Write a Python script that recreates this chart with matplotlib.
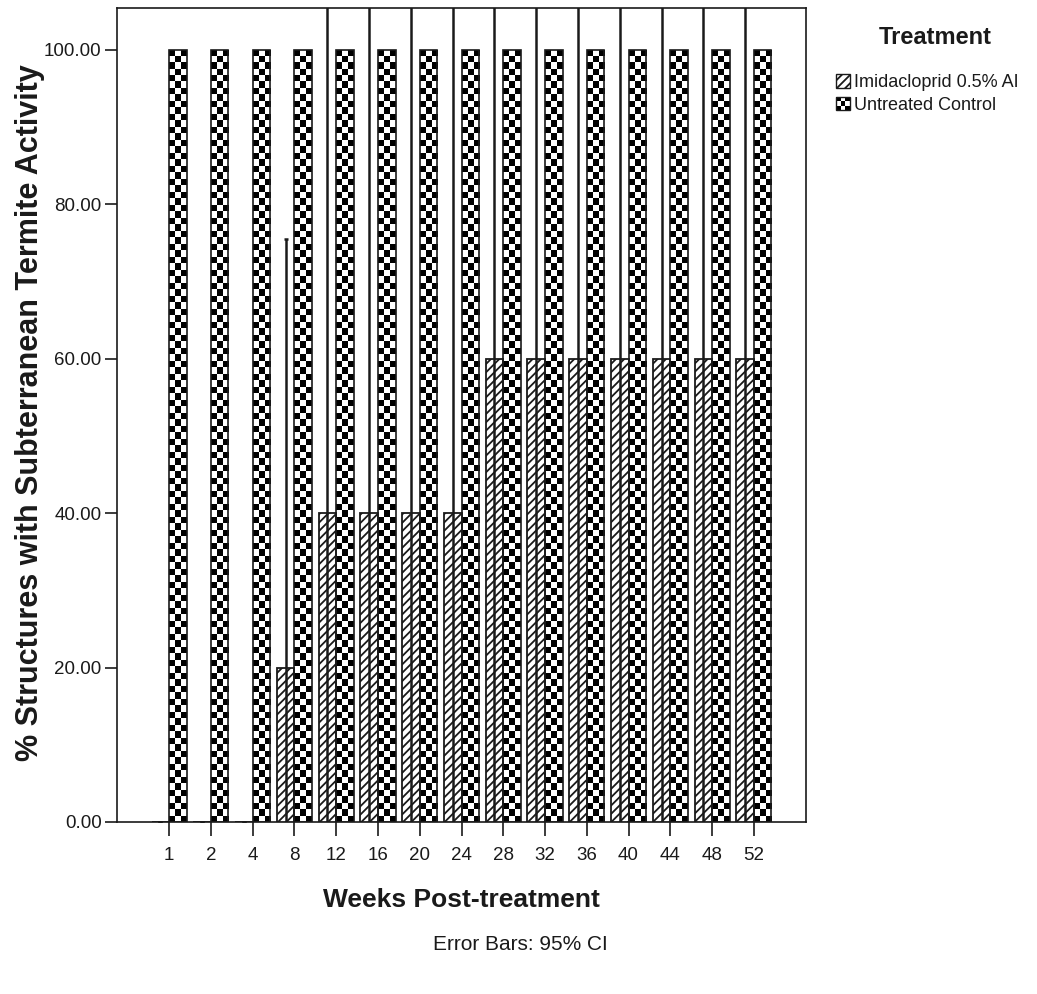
import numpy as np
import matplotlib
matplotlib.use("Agg")
import matplotlib.pyplot as plt
from matplotlib.patches import Rectangle
from matplotlib.legend_handler import HandlerBase

weeks = ["1", "2", "4", "8", "12", "16", "20", "24", "28", "32", "36", "40", "44", "48", "52"]
imidacloprid = [0, 0, 0, 20, 40, 40, 40, 40, 60, 60, 60, 60, 60, 60, 60]
control = [100, 100, 100, 100, 100, 100, 100, 100, 100, 100, 100, 100, 100, 100, 100]
imid_ci_low = [0, 0, 0, -35.5, -28, -28, -28, -28, -8, -8, -8, -8, -8, -8, -8]
imid_ci_high = [0, 0, 0, 75.5, 108, 108, 108, 108, 128, 128, 128, 128, 128, 128, 128]
yticks = [0, 20, 40, 60, 80, 100]

FONT = ["Liberation Sans", "DejaVu Sans"]
INK = "#1a1a1a"

plt.rcParams["hatch.linewidth"] = 1.3


def checker(ax, bar, ncols=3, cell_px=6.5):
    # black/white checkerboard clipped to a bar rectangle
    x0, w, h = bar.get_x(), bar.get_width(), bar.get_height()
    px_per_unit = ax.transData.transform((0, 1))[1] - ax.transData.transform((0, 0))[1]
    nrows = max(1, int(round(h * px_per_unit / cell_px)))
    grid = (np.add.outer(np.arange(nrows), np.arange(ncols)) % 2).astype(float)
    im = ax.imshow(grid, cmap="gray", extent=(x0, x0 + w, 0, h), origin="lower",
                   interpolation="nearest", aspect="auto", zorder=2, vmin=0, vmax=1)
    im.set_clip_path(bar)


class CheckerHandler(HandlerBase):
    def create_artists(self, legend, orig_handle, xdescent, ydescent, width, height, fontsize, trans):
        s = min(width, height)
        x0, y0 = -xdescent, -ydescent
        arts = [Rectangle((x0, y0), s, s, facecolor="white", edgecolor="none", transform=trans)]
        c = s / 3
        for r in range(3):
            for k in range(3):
                if (r + k) % 2 == 0:
                    arts.append(Rectangle((x0 + k * c, y0 + r * c), c, c, facecolor="black",
                                          edgecolor="none", transform=trans))
        arts.append(Rectangle((x0, y0), s, s, facecolor="none", edgecolor=INK, lw=1.0, transform=trans))
        return arts


class HatchHandler(HandlerBase):
    def create_artists(self, legend, orig_handle, xdescent, ydescent, width, height, fontsize, trans):
        s = min(width, height)
        return [Rectangle((-xdescent, -ydescent), s, s, facecolor="white", edgecolor=INK,
                          hatch="////", lw=1.0, transform=trans)]


fig = plt.figure(figsize=(10.37, 9.94), dpi=100)
ax = fig.add_axes([117 / 1037, 1 - 822 / 994, 689 / 1037, 814 / 994])

x = np.arange(len(weeks))
bw = 0.42
ax.set_xlim(-1.25, len(weeks) - 1 + 1.25)
ax.set_ylim(0, 105.4)

imid_bars = ax.bar(x - bw / 2, imidacloprid, width=bw, facecolor="white", edgecolor=INK,
                   hatch="////", linewidth=1.3, zorder=3)
ctrl_bars = ax.bar(x + bw / 2, control, width=bw, facecolor="none", edgecolor=INK,
                   linewidth=1.2, zorder=3)
for b in ctrl_bars:
    checker(ax, b)

imid = np.array(imidacloprid, dtype=float)
yerr = [imid - np.array(imid_ci_low), np.array(imid_ci_high) - imid]
ax.errorbar(x - bw / 2, imid, yerr=yerr, fmt="none", ecolor=INK, elinewidth=1.8,
            capsize=1.5, capthick=1.8, zorder=4)

ax.set_xlim(-1.25, len(weeks) - 1 + 1.25)
ax.set_ylim(0, 105.4)

ax.set_xticks(x)
ax.set_xticklabels(weeks, family=FONT, fontsize=13.5, color=INK)
ax.set_yticks(yticks)
ax.set_yticklabels([f"{v:.2f}" for v in yticks], family=FONT, fontsize=13.5, color=INK)
ax.tick_params(axis="x", direction="out", length=10, width=1.2, color=INK, pad=8)
ax.tick_params(axis="y", direction="out", length=9, width=1.2, color=INK, pad=2)
for sp in ax.spines.values():
    sp.set_color(INK)
    sp.set_linewidth(1.2)

fig.text(30 / 1037, 1 - 413 / 994, "% Structures with Subterranean Termite Activity",
         rotation=90, ha="center", va="center", family=FONT, weight="bold", fontsize=22, color=INK)
fig.text(461 / 1037, 1 - 900 / 994, "Weeks Post-treatment", ha="center", va="center",
         family=FONT, weight="bold", fontsize=19, color=INK)
fig.text(520 / 1037, 1 - 945 / 994, "Error Bars: 95% CI", ha="center", va="center",
         family=FONT, fontsize=15, color=INK)

fig.text(935 / 1037, 1 - 38 / 994, "Treatment", ha="center", va="center",
         family=FONT, weight="bold", fontsize=17, color=INK)
leg = fig.legend([imid_bars, ctrl_bars], ["Imidacloprid 0.5% AI", "Untreated Control"],
                 handler_map={imid_bars: HatchHandler(), ctrl_bars: CheckerHandler()},
                 loc="upper left", bbox_to_anchor=(836 / 1037, 1 - 74 / 994), frameon=False,
                 prop={"family": FONT, "size": 13},
                 handlelength=0.8, handleheight=0.8, handletextpad=0.2, labelspacing=0.3,
                 borderaxespad=0, borderpad=0)
for t in leg.get_texts():
    t.set_color(INK)

fig.savefig("out.png", dpi=100)
